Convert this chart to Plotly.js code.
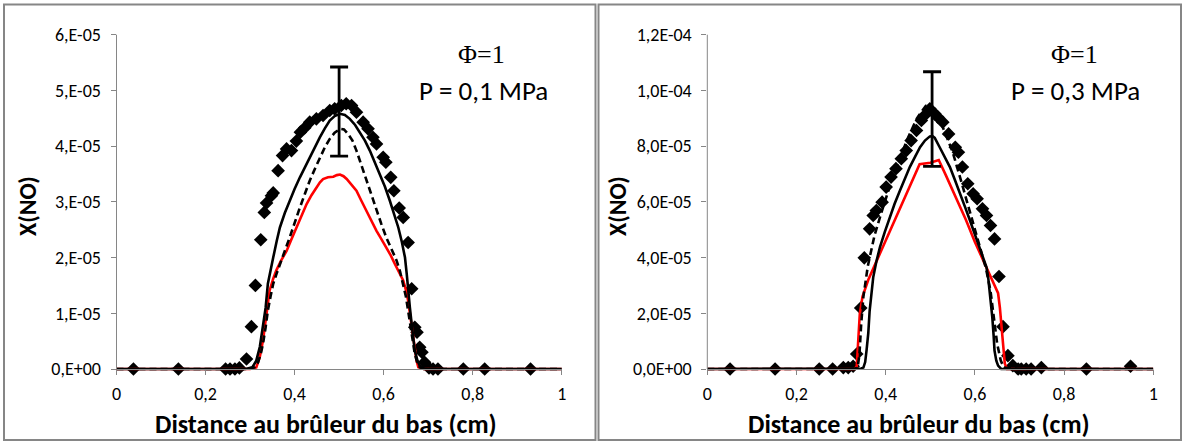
<!DOCTYPE html>
<html>
<head>
<meta charset="utf-8">
<script src="https://cdn.plot.ly/plotly-3.0.1.min.js"></script>
<style>html,body{margin:0;padding:0;background:#fff;}#chart{width:1184px;height:441px;}</style>
</head>
<body>
<div id="chart"></div>
<script>
// ---- Data (X(NO) values in units of 1e-5) ----
const unit = 1e-5;

// Panel 1 : P = 0,1 MPa
const p1ExpX = [0.038,0.139,0.245,0.255,0.266,0.276,0.292,0.303,0.312,0.324,0.332,0.337,0.348,0.352,0.363,0.373,0.382,0.393,0.404,0.413,0.423,0.434,0.449,0.464,0.479,0.490,0.505,0.516,0.528,0.539,0.554,0.565,0.576,0.584,0.599,0.605,0.616,0.623,0.635,0.644,0.655,0.663,0.670,0.675,0.681,0.686,0.692,0.702,0.711,0.722,0.779,0.827,0.930];
const p1ExpY = [0,0,0,0,0,0.02,0.18,0.76,1.50,2.32,2.81,2.98,3.11,3.16,3.56,3.83,3.95,3.92,4.09,4.25,4.33,4.43,4.49,4.55,4.64,4.67,4.73,4.76,4.73,4.61,4.43,4.31,4.16,4.04,3.80,3.71,3.44,3.20,2.89,2.72,2.27,1.44,0.75,0.66,0.39,0.30,0.12,0.02,0,0,0,0,0];

const p1SolidX = [0,0.29,0.305,0.314,0.322,0.329,0.335,0.340,0.346,0.352,0.36,0.367,0.378,0.389,0.40,0.412,0.423,0.434,0.446,0.457,0.468,0.479,0.49,0.502,0.513,0.524,0.536,0.547,0.558,0.569,0.58,0.591,0.603,0.614,0.624,0.633,0.641,0.648,0.652,0.655,0.659,0.663,0.667,0.670,0.676,0.681,0.69,0.70,1];
const p1SolidY = [0,0,0.03,0.15,0.4,0.75,1.1,1.53,1.8,2.0,2.3,2.54,2.8,3.02,3.23,3.44,3.62,3.80,3.98,4.16,4.32,4.46,4.54,4.58,4.56,4.49,4.38,4.25,4.1,3.92,3.72,3.50,3.27,3.02,2.78,2.54,2.28,2.0,1.7,1.41,1.1,0.81,0.55,0.33,0.15,0.06,0.01,0,0];

const p1DashX = [0,0.295,0.31,0.318,0.324,0.329,0.335,0.340,0.346,0.352,0.36,0.367,0.378,0.389,0.40,0.412,0.423,0.434,0.446,0.457,0.468,0.479,0.49,0.502,0.511,0.520,0.53,0.539,0.55,0.561,0.572,0.584,0.595,0.606,0.618,0.629,0.637,0.644,0.65,0.655,0.659,0.663,0.667,0.670,0.676,0.681,0.69,1];
const p1DashY = [0,0,0.03,0.12,0.27,0.45,0.75,1.05,1.3,1.53,1.72,1.89,2.12,2.36,2.63,2.90,3.14,3.38,3.6,3.80,3.98,4.13,4.24,4.31,4.3,4.22,4.1,3.92,3.66,3.38,3.11,2.84,2.6,2.36,2.15,1.95,1.75,1.53,1.3,1.05,0.84,0.63,0.43,0.27,0.1,0.03,0,0];

const p1RedX = [0,0.30,0.314,0.322,0.329,0.336,0.344,0.352,0.359,0.37,0.382,0.393,0.404,0.416,0.427,0.438,0.449,0.457,0.464,0.475,0.487,0.495,0.502,0.51,0.517,0.528,0.539,0.55,0.561,0.572,0.584,0.595,0.606,0.616,0.625,0.635,0.644,0.65,0.655,0.659,0.663,0.667,0.670,0.674,0.678,0.69,1];
const p1RedY = [0,0,0.03,0.22,0.51,0.95,1.41,1.62,1.77,1.95,2.12,2.33,2.54,2.75,2.96,3.12,3.26,3.35,3.41,3.44,3.45,3.48,3.49,3.46,3.41,3.31,3.20,3.02,2.84,2.66,2.48,2.33,2.18,2.04,1.89,1.74,1.59,1.42,1.23,1.0,0.75,0.52,0.33,0.15,0.03,0,0];

const p1ErrX = [0.5];
const p1ErrY = [4.62];
const p1ErrDelta = [0.80];

// Panel 2 : P = 0,3 MPa
const p2ExpX = [0.051,0.152,0.251,0.281,0.305,0.316,0.327,0.335,0.344,0.352,0.364,0.372,0.379,0.392,0.401,0.412,0.423,0.435,0.446,0.457,0.469,0.480,0.487,0.499,0.510,0.517,0.528,0.541,0.556,0.563,0.572,0.584,0.596,0.605,0.617,0.626,0.635,0.644,0.654,0.663,0.674,0.685,0.697,0.704,0.715,0.726,0.749,0.850,0.949];
const p2ExpY = [0,0,0,0,0.05,0.05,0.1,0.54,2.19,3.99,5.03,5.51,5.69,5.99,6.53,6.89,7.19,7.55,7.84,8.20,8.56,8.92,9.10,9.34,9.16,9.04,8.86,8.44,7.96,7.78,7.25,6.65,6.29,6.11,5.75,5.51,5.15,4.67,3.32,1.52,0.48,0.12,0,0,0,0,0.05,0,0.1];

const p2SolidX = [0,0.335,0.345,0.350,0.354,0.357,0.361,0.364,0.368,0.372,0.379,0.387,0.398,0.409,0.42,0.432,0.443,0.454,0.466,0.477,0.488,0.499,0.505,0.51,0.521,0.532,0.544,0.555,0.566,0.578,0.589,0.60,0.611,0.619,0.626,0.630,0.633,0.636,0.639,0.642,0.644,0.648,0.652,0.659,1];
const p2SolidY = [0,0,0.02,0.05,0.25,0.66,1.3,2.09,2.75,3.29,3.85,4.37,4.92,5.45,5.93,6.41,6.85,7.25,7.62,7.96,8.2,8.35,8.36,8.3,7.96,7.62,7.25,6.79,6.29,5.81,5.33,4.85,4.37,4.0,3.65,3.25,2.81,2.35,1.86,1.2,0.66,0.3,0.12,0,0];

const p2DashX = [0,0.33,0.337,0.341,0.345,0.350,0.360,0.375,0.390,0.41,0.43,0.45,0.47,0.49,0.50,0.515,0.53,0.55,0.57,0.59,0.61,0.625,0.635,0.643,0.65,0.658,0.665,0.70,1];
const p2DashY = [0,0,0.05,0.5,1.6,2.6,3.7,4.8,5.6,6.6,7.5,8.3,9.0,9.45,9.5,9.2,8.6,7.8,6.7,5.6,4.5,3.6,2.8,1.8,0.9,0.3,0.05,0,0];

const p2RedX = [0,0.33,0.335,0.338,0.342,0.348,0.355,0.361,0.38,0.40,0.42,0.44,0.46,0.476,0.50,0.519,0.535,0.55,0.58,0.60,0.618,0.635,0.645,0.652,0.656,0.659,0.663,0.667,0.672,1];
const p2RedY = [0,0,0.1,0.9,2.0,2.6,2.95,3.2,3.89,4.62,5.35,6.08,6.81,7.35,7.4,7.5,6.95,6.43,5.35,4.56,3.91,3.35,3.0,2.72,2.2,1.64,0.9,0.2,0,0];

const p2ErrX = [0.504];
const p2ErrY = [8.97];
const p2ErrDelta = [1.70];

// Tick labels
const xTickVals = [0,0.2,0.4,0.6,0.8,1];
const xTickText = ['0','0,2','0,4','0,6','0,8','1'];
const y1TickVals = [0,1,2,3,4,5,6];
const y1TickText = ['0,E+00','1,E-05','2,E-05','3,E-05','4,E-05','5,E-05','6,E-05'];
const y2TickVals = [0,2,4,6,8,10,12];
const y2TickText = ['0,0E+00','2,0E-05','4,0E-05','6,0E-05','8,0E-05','1,0E-04','1,2E-04'];

const xTitle = 'Distance au brûleur du bas (cm)';
const yTitle = 'X(NO)';
const phiText = 'Φ=1';
const p1Text = 'P = 0,1 MPa';
const p2Text = 'P = 0,3 MPa';

// ---- Build ----
const W = 1184, H = 441;
const sc = a => a.map(v => v * unit);
const px = x => x / W;
const py = y => 1 - y / H;

const SANS = 'Carlito, Calibri, Lato, sans-serif';
const SERIF = '"Liberation Serif", "Times New Roman", serif';
const GRAY = '#868686';
const TICK_SIZE = 18;

function panelTraces(xa, ya, exX, exY, soX, soY, daX, daY, reX, reY, erX, erY, erD) {
  return [
    {x: exX, y: sc(exY), xaxis: xa, yaxis: ya, type: 'scatter', mode: 'markers', cliponaxis: false,
     marker: {symbol: 'diamond', size: 10.5, color: '#000'}, showlegend: false},
    {x: reX, y: sc(reY), xaxis: xa, yaxis: ya, type: 'scatter', mode: 'lines',
     line: {color: '#ff0000', width: 2.6}, showlegend: false},
    {x: daX, y: sc(daY), xaxis: xa, yaxis: ya, type: 'scatter', mode: 'lines',
     line: {color: '#000', width: 2.6, dash: '7px,4px'}, showlegend: false},
    {x: soX, y: sc(soY), xaxis: xa, yaxis: ya, type: 'scatter', mode: 'lines',
     line: {color: '#000', width: 2.6}, showlegend: false},
    {x: erX, y: sc(erY), xaxis: xa, yaxis: ya, type: 'scatter', mode: 'markers', cliponaxis: false,
     marker: {size: 2, color: 'rgba(0,0,0,0)'},
     error_y: {type: 'data', array: sc(erD), visible: true, color: '#000', thickness: 2.8, width: 9},
     showlegend: false}
  ];
}

const data = [].concat(
  panelTraces('x', 'y', p1ExpX, p1ExpY, p1SolidX, p1SolidY, p1DashX, p1DashY, p1RedX, p1RedY, p1ErrX, p1ErrY, p1ErrDelta),
  panelTraces('x2', 'y2', p2ExpX, p2ExpY, p2SolidX, p2SolidY, p2DashX, p2DashY, p2RedX, p2RedY, p2ErrX, p2ErrY, p2ErrDelta)
);

// geometry (px)
const y0px = 369, yTopPx = 34.7;
const pxPerUnit = (y0px - yTopPx) / 6;
const padUnits = 0.05;
const yBotPx = y0px + padUnits * pxPerUnit;
const L1 = 116.5, R1 = 561.7, L2 = 707.3, R2 = 1153.3;

function xAxis(l, r) {
  return {
    domain: [px(l), px(r)], range: [0, 1], anchor: 'free', position: py(y0px),
    tickmode: 'array', tickvals: xTickVals, ticktext: xTickText,
    showline: true, linecolor: GRAY, linewidth: 1, ticks: 'outside', ticklen: 5, tickcolor: GRAY, tickwidth: 1,
    showgrid: false, zeroline: false, fixedrange: true, ticklabelstandoff: 3,
    tickfont: {family: SANS, size: TICK_SIZE, color: '#000'}
  };
}
function yAxis(tv, tt, maxU, xanchor) {
  return {
    domain: [py(yBotPx), py(yTopPx)], range: [-padUnits * (maxU / 6) * unit, maxU * unit],
    anchor: xanchor, tickmode: 'array', tickvals: sc(tv), ticktext: tt,
    showline: false, ticks: 'outside', ticklen: 5, tickcolor: GRAY, tickwidth: 1,
    showgrid: false, zeroline: false, fixedrange: true, ticklabelstandoff: 6,
    tickfont: {family: SANS, size: TICK_SIZE, color: '#000'}
  };
}

const ann = (text, x, y, size, family, angle) => ({
  text: text, xref: 'paper', yref: 'paper', x: px(x), y: py(y), showarrow: false,
  textangle: angle || 0, font: {family: family, size: size, color: '#000'},
  xanchor: 'center', yanchor: 'middle'
});

const layout = {
  width: W, height: H,
  margin: {l: 0, r: 0, t: 0, b: 0, pad: 0},
  paper_bgcolor: '#fff', plot_bgcolor: 'rgba(0,0,0,0)',
  showlegend: false,
  xaxis: xAxis(L1, R1),
  yaxis: yAxis(y1TickVals, y1TickText, 6, 'x'),
  xaxis2: xAxis(L2, R2),
  yaxis2: yAxis(y2TickVals, y2TickText, 12, 'x2'),
  shapes: [
    {type: 'rect', xref: 'paper', yref: 'paper', x0: px(4), x1: px(595.5), y0: py(440), y1: py(4.5), line: {color: GRAY, width: 2}},
    {type: 'rect', xref: 'paper', yref: 'paper', x0: px(598.5), x1: px(1181), y0: py(440), y1: py(4.5), line: {color: GRAY, width: 2}},
    {type: 'line', xref: 'paper', yref: 'paper', x0: px(L1), x1: px(L1), y0: py(y0px), y1: py(yTopPx), line: {color: GRAY, width: 1}},
    {type: 'line', xref: 'paper', yref: 'paper', x0: px(L2), x1: px(L2), y0: py(y0px), y1: py(yTopPx), line: {color: GRAY, width: 1}}
  ],
  annotations: [
    ann('<b>' + yTitle + '</b>', 28, 206, 24, SANS, -90),
    ann('<b>' + yTitle + '</b>', 618, 206, 24, SANS, -90),
    ann('<b>' + xTitle + '</b>', 326, 424, 26, SANS),
    ann('<b>' + xTitle + '</b>', 919, 424, 26, SANS),
    ann(phiText, 481, 55, 26, SERIF),
    ann(p1Text, 483, 90, 27, SANS),
    ann(phiText, 1074, 55, 26, SERIF),
    ann(p2Text, 1075, 90, 27, SANS)
  ]
};

Plotly.newPlot('chart', data, layout, {displayModeBar: false, staticPlot: true});
</script>
</body>
</html>
